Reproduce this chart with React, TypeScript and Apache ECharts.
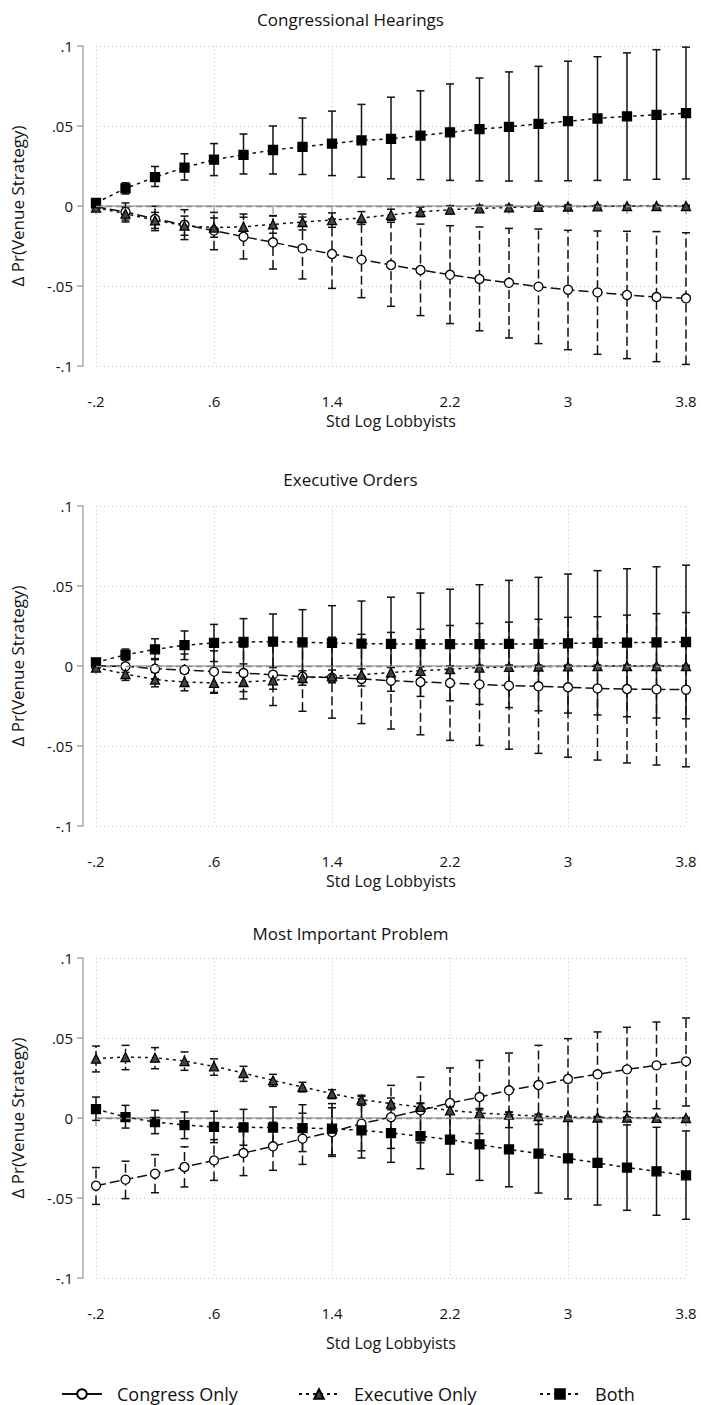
import React, { useEffect, useRef } from "react";
import * as echarts from "echarts";

// ---------- data ----------
const xValues = [-0.2, 0, 0.2, 0.4, 0.6, 0.8, 1.0, 1.2, 1.4, 1.6, 1.8, 2.0, 2.2, 2.4, 2.6, 2.8, 3.0, 3.2, 3.4, 3.6, 3.8];
const yTicks = [-0.1, -0.05, 0, 0.05, 0.1];
const panelTitles = ["Congressional Hearings", "Executive Orders", "Most Important Problem"];
const seriesNames = ["Congress Only", "Executive Only", "Both"];
const xTitle = "Std Log Lobbyists";
const yTitle = "Δ Pr(Venue Strategy)";

// Panel 1: Congressional Hearings
const congress1 = [-0.0005, -0.0037, -0.0081, -0.0117, -0.0154, -0.0192, -0.0227, -0.0265, -0.030, -0.0335, -0.0369, -0.040, -0.043, -0.0456, -0.048, -0.0504, -0.0523, -0.054, -0.0556, -0.0569, -0.0577];
const congress1Lo = [-0.002, -0.010, -0.0154, -0.021, -0.0273, -0.0331, -0.0394, -0.0456, -0.0515, -0.0573, -0.0627, -0.0685, -0.0735, -0.078, -0.0825, -0.086, -0.0898, -0.0927, -0.0954, -0.0973, -0.099];
const congress1Hi = [0.001, 0.0019, -0.0002, -0.0023, -0.004, -0.005, -0.006, -0.0069, -0.0081, -0.009, -0.0102, -0.0113, -0.0123, -0.0131, -0.014, -0.0144, -0.0152, -0.0156, -0.0158, -0.016, -0.0167];
const executive1 = [-0.001, -0.0048, -0.009, -0.0123, -0.0135, -0.013, -0.0115, -0.010, -0.0088, -0.0075, -0.0055, -0.0037, -0.0023, -0.0015, -0.0009, -0.0005, -0.0003, -0.0002, -0.0001, 0, 0];
const executive1Lo = [-0.003, -0.0088, -0.014, -0.0183, -0.0195, -0.019, -0.017, -0.015, -0.0133, -0.0115, -0.009, -0.0067, -0.0048, -0.0035, -0.0024, -0.0015, -0.0013, -0.001, -0.0006, -0.0005, -0.0005];
const executive1Hi = [0.001, -0.0008, -0.004, -0.0063, -0.0075, -0.007, -0.0062, -0.005, -0.0043, -0.0035, -0.002, -0.0007, 0.0002, 0.0005, 0.0006, 0.0005, 0.0007, 0.0006, 0.0004, 0.0005, 0.0005];
const both1 = [0.002, 0.011, 0.018, 0.024, 0.029, 0.032, 0.035, 0.037, 0.039, 0.041, 0.042, 0.044, 0.046, 0.048, 0.0495, 0.0513, 0.053, 0.0547, 0.056, 0.057, 0.058];
const both1Lo = [-0.0005, 0.0075, 0.0122, 0.0162, 0.019, 0.020, 0.020, 0.0197, 0.019, 0.018, 0.017, 0.0165, 0.016, 0.0157, 0.0156, 0.0156, 0.0158, 0.016, 0.0163, 0.0167, 0.0169];
const both1Hi = [0.004, 0.0145, 0.0247, 0.0326, 0.039, 0.045, 0.050, 0.055, 0.0593, 0.0635, 0.068, 0.072, 0.0763, 0.080, 0.0838, 0.0873, 0.0905, 0.0933, 0.0957, 0.0977, 0.0993];

// Panel 2: Executive Orders
const congress2 = [0, -0.0002, -0.0017, -0.0025, -0.0035, -0.0044, -0.0054, -0.0067, -0.0073, -0.0081, -0.0092, -0.010, -0.0106, -0.0115, -0.0123, -0.0127, -0.0133, -0.014, -0.0144, -0.0146, -0.0148];
const congress2Lo = [-0.0015, -0.004, -0.008, -0.0125, -0.0165, -0.0206, -0.0247, -0.0283, -0.0326, -0.036, -0.0394, -0.043, -0.0465, -0.0496, -0.052, -0.0546, -0.057, -0.0588, -0.0606, -0.0619, -0.063];
const congress2Hi = [0.0015, 0.0036, 0.0046, 0.0075, 0.0095, 0.0118, 0.014, 0.0149, 0.018, 0.0198, 0.021, 0.023, 0.0253, 0.0266, 0.0274, 0.0292, 0.0304, 0.0308, 0.0318, 0.0327, 0.0334];
const executive2 = [-0.001, -0.005, -0.0085, -0.010, -0.0106, -0.010, -0.009, -0.0075, -0.0065, -0.0054, -0.004, -0.003, -0.002, -0.001, -0.0006, -0.0003, -0.0002, -0.0001, 0, 0, 0];
const executive2Lo = [-0.003, -0.009, -0.013, -0.0155, -0.017, -0.016, -0.0145, -0.012, -0.0105, -0.009, -0.007, -0.0055, -0.004, -0.0025, -0.0018, -0.0012, -0.001, -0.0008, -0.0006, -0.0005, -0.0005];
const executive2Hi = [0.001, -0.001, -0.004, -0.0045, -0.0042, -0.004, -0.0035, -0.003, -0.0025, -0.0018, -0.001, -0.0005, 0, 0.0005, 0.0006, 0.0006, 0.0006, 0.0006, 0.0006, 0.0005, 0.0005];
const both2 = [0.0023, 0.007, 0.0104, 0.013, 0.0144, 0.015, 0.0152, 0.0148, 0.0144, 0.014, 0.0138, 0.0137, 0.0137, 0.0137, 0.0138, 0.0138, 0.0142, 0.0144, 0.0146, 0.0148, 0.015];
const both2Lo = [0.0005, 0.0044, 0.004, 0.004, 0.0028, 0.0013, -0.001, -0.0055, -0.009, -0.0125, -0.0158, -0.019, -0.0217, -0.024, -0.026, -0.028, -0.0294, -0.0306, -0.0317, -0.0325, -0.033];
const both2Hi = [0.004, 0.0106, 0.017, 0.0219, 0.026, 0.0296, 0.0325, 0.0352, 0.0377, 0.0406, 0.043, 0.0456, 0.048, 0.0508, 0.0535, 0.0554, 0.0575, 0.0596, 0.0608, 0.062, 0.063];

// Panel 3: Most Important Problem
const congress3 = [-0.0423, -0.0385, -0.0348, -0.0306, -0.0265, -0.0219, -0.0177, -0.0129, -0.0088, -0.0035, 0.0005, 0.0048, 0.0094, 0.0131, 0.0173, 0.0206, 0.0244, 0.0273, 0.0304, 0.0329, 0.0354];
const congress3Lo = [-0.054, -0.0504, -0.0467, -0.0431, -0.039, -0.036, -0.0327, -0.029, -0.024, -0.0205, -0.019, -0.0155, -0.0125, -0.0098, -0.006, -0.004, -0.0009, 0.0008, 0.004, 0.0058, 0.0075];
const congress3Hi = [-0.031, -0.027, -0.0229, -0.018, -0.0135, -0.0083, -0.0027, 0.003, 0.0064, 0.0135, 0.0204, 0.0256, 0.0313, 0.036, 0.0406, 0.0454, 0.0496, 0.0538, 0.0567, 0.060, 0.0625];
const executive3 = [0.0371, 0.0381, 0.0377, 0.0356, 0.0323, 0.0281, 0.0235, 0.0194, 0.0152, 0.0115, 0.009, 0.0069, 0.0048, 0.0031, 0.0021, 0.0012, 0.0006, 0.0003, 0.0002, 0.0001, 0];
const executive3Lo = [0.0288, 0.0302, 0.0308, 0.0298, 0.0267, 0.0229, 0.0198, 0.0163, 0.0121, 0.0079, 0.0052, 0.0044, 0.0027, 0.0012, 0.0007, 0.0002, -0.0001, -0.0003, -0.0002, -0.0002, -0.0003];
const executive3Hi = [0.045, 0.0454, 0.044, 0.0413, 0.037, 0.0323, 0.0273, 0.0223, 0.0177, 0.0142, 0.0125, 0.0094, 0.0069, 0.005, 0.0035, 0.0022, 0.0013, 0.0009, 0.0006, 0.0004, 0.0003];
const both3 = [0.0056, 0.0006, -0.0025, -0.0044, -0.0056, -0.0058, -0.006, -0.0063, -0.0067, -0.0077, -0.0094, -0.0113, -0.0135, -0.0165, -0.0196, -0.0223, -0.0252, -0.0281, -0.031, -0.0333, -0.0358];
const both3Lo = [-0.0015, -0.0063, -0.0098, -0.0129, -0.0154, -0.017, -0.0185, -0.021, -0.023, -0.025, -0.0277, -0.0317, -0.0352, -0.039, -0.043, -0.0469, -0.0506, -0.0544, -0.0577, -0.0608, -0.0633];
const both3Hi = [0.0131, 0.0079, 0.0048, 0.0038, 0.0042, 0.0054, 0.0069, 0.0083, 0.009, 0.0098, 0.0092, 0.009, 0.008, 0.006, 0.0038, 0.0023, 0.0002, -0.002, -0.0043, -0.0058, -0.0081];

// ---------- layout / style ----------
const FONT = "'Open Sans', 'Noto Sans', 'DejaVu Sans', sans-serif";
const INK = "#111";
const AXIS_GRAY = "#a8a8a8";
const GRID_GRAY = "#c4c4c4";
const gridTops = [46, 506, 958];
const gridHeight = 320;
const titleTops = [6, 466, 920];
const xNameGaps = [34, 34, 44];
const legendLefts = [56, 293, 534];

const seriesStyles = [
  { symbol: "circle", fill: "#ffffff", lineDash: [10, 4], barDash: [9, 4] as number[] | null, legendLine: "solid" as any },
  { symbol: "triangle", fill: "#444444", lineDash: [3, 4], barDash: [3, 3] as number[] | null, legendLine: [3, 4] as any },
  { symbol: "rect", fill: "#000000", lineDash: [3.5, 4], barDash: null as number[] | null, legendLine: [3, 4] as any },
];

const panels = [
  { pts: [congress1, executive1, both1], lo: [congress1Lo, executive1Lo, both1Lo], hi: [congress1Hi, executive1Hi, both1Hi] },
  { pts: [congress2, executive2, both2], lo: [congress2Lo, executive2Lo, both2Lo], hi: [congress2Hi, executive2Hi, both2Hi] },
  { pts: [congress3, executive3, both3], lo: [congress3Lo, executive3Lo, both3Lo], hi: [congress3Hi, executive3Hi, both3Hi] },
];

function stataNum(v: number): string {
  const r = Math.round(v * 1000) / 1000;
  if (r === 0) return "0";
  return String(r).replace(/^(-?)0\./, "$1.");
}

function buildOption() {
  const grids = gridTops.map((t) => ({ left: 96, right: 15, top: t, height: gridHeight }));
  const titles = panelTitles.map((t, i) => ({
    text: t,
    left: "center",
    top: titleTops[i],
    textStyle: { fontFamily: FONT, fontSize: 17, fontWeight: "normal", color: INK },
  }));
  const xAxes = gridTops.map((_, i) => ({
    type: "category",
    gridIndex: i,
    data: xValues.map(stataNum),
    boundaryGap: false,
    offset: 13,
    axisLine: { show: true, lineStyle: { color: AXIS_GRAY, width: 1.5 } },
    axisTick: { show: true, interval: 1, length: 8, lineStyle: { color: AXIS_GRAY, width: 1.5 } },
    axisLabel: { interval: 3, margin: 14, fontFamily: FONT, fontSize: 15, color: INK },
    splitLine: { show: true, interval: 3, lineStyle: { color: GRID_GRAY, width: 1, type: [1, 3] } },
    name: xTitle,
    nameLocation: "middle",
    nameGap: xNameGaps[i],
    nameTextStyle: { fontFamily: FONT, fontSize: 16, color: INK },
  }));
  const yAxes = gridTops.map((_, i) => ({
    type: "value",
    gridIndex: i,
    min: yTicks[0],
    max: yTicks[yTicks.length - 1],
    interval: 0.05,
    offset: 13,
    axisLine: { show: true, lineStyle: { color: AXIS_GRAY, width: 1.5 } },
    axisTick: { show: true, length: 6, lineStyle: { color: AXIS_GRAY, width: 1.5 } },
    axisLabel: { margin: 10, fontFamily: FONT, fontSize: 15, color: INK, formatter: (v: number) => stataNum(v) },
    splitLine: { show: true, lineStyle: { color: GRID_GRAY, width: 1, type: [1, 3] } },
    name: yTitle,
    nameLocation: "middle",
    nameGap: 57,
    nameTextStyle: { fontFamily: FONT, fontSize: 17, color: INK },
  }));

  const series: any[] = [];
  panels.forEach((p, pi) => {
    // zero reference line
    series.push({
      type: "line",
      xAxisIndex: pi,
      yAxisIndex: pi,
      data: [],
      silent: true,
      z: 1,
      markLine: {
        silent: true,
        symbol: ["none", "none"],
        label: { show: false },
        lineStyle: { color: "#8a8a8a", width: 1.3, type: [6, 4] },
        data: [{ yAxis: 0 }],
      },
    });
    seriesNames.forEach((name, si) => {
      const st = seriesStyles[si];
      const lo = p.lo[si];
      const hi = p.hi[si];
      series.push({
        type: "custom",
        xAxisIndex: pi,
        yAxisIndex: pi,
        z: 2,
        silent: true,
        data: xValues.map((_, k) => [k, lo[k], hi[k]]),
        encode: { x: 0, y: [1, 2] },
        renderItem: (params: any, api: any) => {
          const k = api.value(0);
          const a = api.coord([k, api.value(1)]);
          const b = api.coord([k, api.value(2)]);
          const cw = 4;
          const barStyle: any = { stroke: INK, lineWidth: 1.5 };
          if (st.barDash) barStyle.lineDash = st.barDash;
          const capStyle = { stroke: INK, lineWidth: 1.5 };
          return {
            type: "group",
            children: [
              { type: "line", shape: { x1: a[0], y1: a[1], x2: b[0], y2: b[1] }, style: barStyle },
              { type: "line", shape: { x1: a[0] - cw, y1: a[1], x2: a[0] + cw, y2: a[1] }, style: capStyle },
              { type: "line", shape: { x1: b[0] - cw, y1: b[1], x2: b[0] + cw, y2: b[1] }, style: capStyle },
            ],
          };
        },
      });
      series.push({
        type: "line",
        name,
        xAxisIndex: pi,
        yAxisIndex: pi,
        z: 3,
        data: p.pts[si],
        symbol: st.symbol,
        symbolSize: 9,
        showAllSymbol: true,
        lineStyle: { color: INK, width: 1.5, type: st.lineDash },
        itemStyle: { color: st.fill, borderColor: "#000", borderWidth: 1.3 },
        emphasis: { disabled: true },
      });
    });
  });

  const legends = seriesNames.map((n, i) => ({
    data: [n],
    left: legendLefts[i],
    top: 1380,
    itemWidth: 40,
    itemHeight: 12,
    selectedMode: false,
    lineStyle: { type: seriesStyles[i].legendLine },
    textStyle: { fontFamily: FONT, fontSize: 18, color: INK, padding: [0, 0, 0, 10] },
  }));

  return {
    animation: false,
    backgroundColor: "#ffffff",
    title: titles,
    grid: grids,
    xAxis: xAxes,
    yAxis: yAxes,
    legend: legends,
    series,
  };
}

export default function App() {
  const ref = useRef<HTMLDivElement>(null);
  useEffect(() => {
    if (!ref.current) return;
    const chart = echarts.init(ref.current, undefined, { renderer: "svg" });
    chart.setOption(buildOption() as any);
    return () => chart.dispose();
  }, []);
  return (
    <div
      ref={ref}
      style={{ position: "fixed", left: 0, top: 0, width: 701, height: 1405, background: "#fff" }}
    />
  );
}
